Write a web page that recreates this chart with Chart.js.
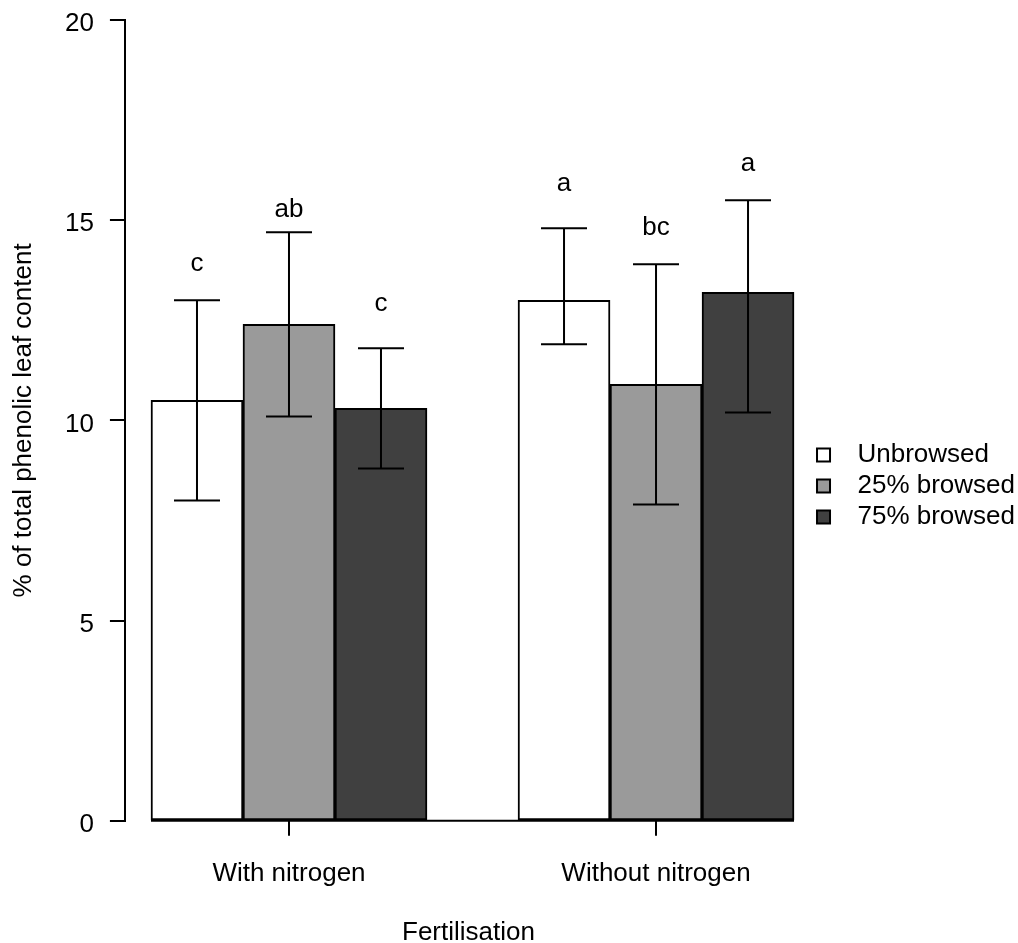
<!DOCTYPE html>
<html>
<head>
<meta charset="utf-8">
<script src="https://cdn.jsdelivr.net/npm/chart.js@4.4.1/dist/chart.umd.min.js"></script>
<style>
  body { margin: 0; background: #fff; }
  #wrap { width: 1018px; height: 943px; }
</style>
</head>
<body>
<div id="wrap"><canvas id="phenolChart"></canvas></div>
<script>
const groups = ['With nitrogen', 'Without nitrogen'];
const groupPos = [1, 2];
const seriesNames = ['Unbrowsed', '25% browsed', '75% browsed'];

// mean % phenolic content per group
const unbrowsed = [10.5, 13.0];
const browsed25 = [12.4, 10.9];
const browsed75 = [10.3, 13.2];

// error bar ends
const errLow = [[8.0, 11.9], [10.1, 7.9], [8.8, 10.2]];
const errHigh = [[13.0, 14.8], [14.7, 13.9], [11.8, 15.5]];

// significance letters and the height they sit at
const letters = [['c', 'a'], ['ab', 'bc'], ['c', 'a']];
const letterPos = [[13.9, 15.9], [15.27, 14.8], [12.9, 16.4]];

const yTicks = [0, 5, 10, 15, 20];

const fillColors = ['#ffffff', '#9a9a9a', '#404040'];
const font = "'Liberation Sans', Arial, sans-serif";

Chart.defaults.font.family = font;
Chart.defaults.color = '#000';

const seriesValues = [unbrowsed, browsed25, browsed75];

const datasets = seriesValues.map(function(vals, i) {
    return {
        label: seriesNames[i],
        data: vals.map(function(v, j) { return { x: groupPos[j], y: v }; }),
        backgroundColor: fillColors[i],
        borderColor: '#000',
        borderWidth: 2,
        borderSkipped: false,
        barThickness: 92
    };
});

const errorBars = {
    id: 'errorBars',
    afterDatasetsDraw(chart) {
        const ctx = chart.ctx;
        const yScale = chart.scales.y;
        ctx.save();
        ctx.strokeStyle = '#000';
        ctx.lineWidth = 2;

        // baseline under the bars
        const first = chart.getDatasetMeta(0).data[0];
        const lastMeta = chart.getDatasetMeta(datasets.length - 1);
        const last = lastMeta.data[lastMeta.data.length - 1];
        const y0 = yScale.getPixelForValue(0);
        ctx.beginPath();
        ctx.moveTo(first.x - first.width / 2, y0);
        ctx.lineTo(last.x + last.width / 2, y0);
        ctx.stroke();

        ctx.fillStyle = '#000';
        ctx.font = '26px ' + font;
        ctx.textAlign = 'center';
        ctx.textBaseline = 'middle';

        datasets.forEach(function(ds, i) {
            chart.getDatasetMeta(i).data.forEach(function(bar, j) {
                const yHi = yScale.getPixelForValue(errHigh[i][j]);
                const yLo = yScale.getPixelForValue(errLow[i][j]);
                const cap = bar.width / 4;
                ctx.beginPath();
                ctx.moveTo(bar.x, yHi);
                ctx.lineTo(bar.x, yLo);
                ctx.moveTo(bar.x - cap, yHi);
                ctx.lineTo(bar.x + cap, yHi);
                ctx.moveTo(bar.x - cap, yLo);
                ctx.lineTo(bar.x + cap, yLo);
                ctx.stroke();

                ctx.fillText(letters[i][j], bar.x, yScale.getPixelForValue(letterPos[i][j]));
            });
        });
        ctx.restore();
    }
};

const ctx = document.getElementById('phenolChart').getContext('2d');
new Chart(ctx, {
    type: 'bar',
    data: { datasets: datasets },
    options: {
        responsive: true,
        maintainAspectRatio: false,
        animation: false,
        devicePixelRatio: 1,
        layout: { padding: { top: 20, right: -7, bottom: -3, left: 0 } },
        scales: {
            x: {
                type: 'linear',
                offset: false,
                min: 0.553,
                max: 2.425,
                afterBuildTicks: function(scale) {
                    scale.ticks = groupPos.map(function(p) { return { value: p }; });
                },
                ticks: {
                    autoSkip: false,
                    maxRotation: 0,
                    padding: 22,
                    font: { size: 26 },
                    color: '#000',
                    callback: function(v) { return groups[groupPos.indexOf(v)]; }
                },
                grid: { display: true, offset: false, drawOnChartArea: false, tickLength: 15, color: '#000', lineWidth: 2 },
                border: { display: false },
                title: {
                    display: true,
                    text: 'Fertilisation',
                    font: { size: 26, lineHeight: 1 },
                    padding: { top: 9, bottom: 0 },
                    color: '#000'
                }
            },
            y: {
                min: 0,
                max: 20,
                afterBuildTicks: function(scale) {
                    scale.ticks = yTicks.map(function(v) { return { value: v }; });
                },
                ticks: {
                    padding: 16,
                    labelOffset: 4,
                    font: { size: 26, lineHeight: 0.3 },
                    color: '#000'
                },
                grid: { display: true, drawOnChartArea: false, tickLength: 15, color: '#000', lineWidth: 2 },
                border: { display: true, color: '#000', width: 2 },
                title: {
                    display: true,
                    text: '% of total phenolic leaf content',
                    font: { size: 26, lineHeight: 1 },
                    padding: { top: 11, bottom: 12 },
                    color: '#000'
                }
            }
        },
        plugins: {
            legend: {
                position: 'right',
                align: 'center',
                title: { display: true, text: '', font: { size: 6, lineHeight: 1 }, padding: 0 },
                labels: {
                    boxWidth: 13,
                    boxHeight: 13,
                    padding: 5,
                    color: '#000',
                    font: { size: 26 },
                    generateLabels: function(chart) {
                        const items = Chart.defaults.plugins.legend.labels.generateLabels(chart);
                        items.forEach(function(item) { item.text = '  ' + item.text; });
                        return items;
                    }
                }
            },
            tooltip: { enabled: false }
        }
    },
    plugins: [errorBars]
});
</script>
</body>
</html>
